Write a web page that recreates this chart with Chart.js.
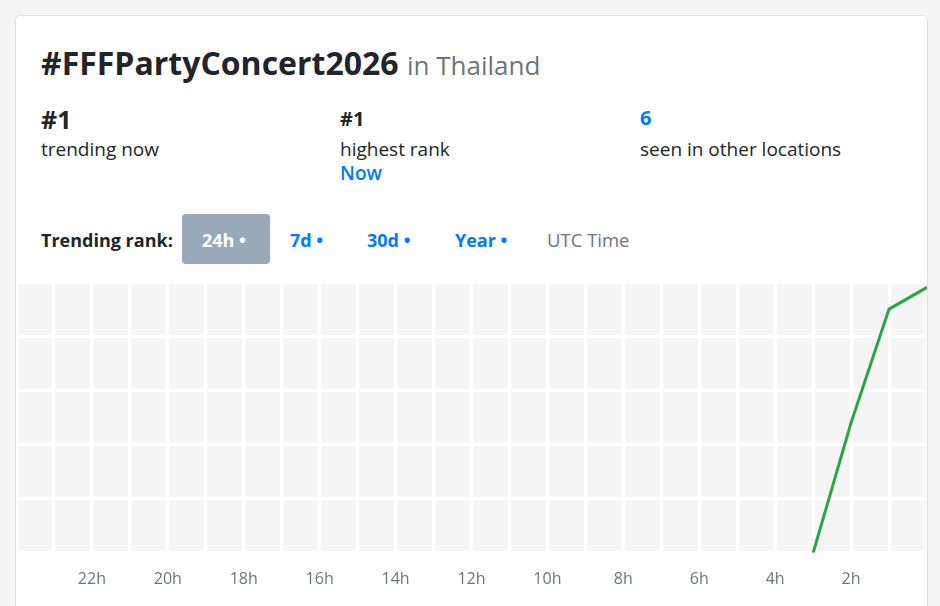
<!DOCTYPE html>
<html>
<head>
<meta charset="utf-8">
<script src="https://cdn.jsdelivr.net/npm/chart.js@4.4.1/dist/chart.umd.min.js"></script>
<style>
  html, body { margin: 0; padding: 0; background: #f5f5f5; width: 940px; height: 606px; overflow: hidden; font-family: "Open Sans", "Noto Sans", sans-serif; color: #212529; }
  .card { position: absolute; left: 15px; top: 15px; width: 911px; height: 640px; background: #fff; border: 1px solid #dfdfdf; border-radius: 5px; }
  .t { position: absolute; white-space: nowrap; line-height: 1; }
  .title { left: 25px; top: 31px; font-size: 32px; font-weight: 700; letter-spacing: 0; }
  .title span { font-weight: 400; color: #6c757d; font-size: 26px; }
  .big { font-size: 25px; font-weight: 700; }
  .mid { font-size: 20px; font-weight: 700; }
  .lbl { font-size: 19px; }
  .blue { color: #007bff; }
  .tab { position: absolute; white-space: nowrap; line-height: 1; font-size: 18px; font-weight: 700; color: #007bff; }
  .btn { position: absolute; left: 166px; top: 198px; width: 88px; height: 50px; background: #9aa9b8; border-radius: 4px; }
  #wrap { position: absolute; left: 0; top: 264px; width: 911px; height: 326px; }
</style>
</head>
<body>
<div class="card">
  <div class="t title">#FFFPartyConcert2026 <span>in Thailand</span></div>

  <div class="t big" style="left:25px; top:91px;">#1</div>
  <div class="t lbl" style="left:25px; top:124px;">trending now</div>

  <div class="t mid" style="left:324px; top:93px;">#1</div>
  <div class="t lbl" style="left:324px; top:124px;">highest rank</div>
  <div class="t lbl blue" style="left:324px; top:148px; font-weight:600;">Now</div>

  <div class="t mid blue" style="left:624px; top:92px;">6</div>
  <div class="t lbl" style="left:624px; top:124px;">seen in other locations</div>

  <div class="t" style="left:25px; top:215px; font-size:18px; font-weight:700;">Trending rank:</div>
  <div class="btn"></div>
  <div class="tab" style="left:186px; top:215px; color:#fff;">24h &#8226;</div>
  <div class="tab" style="left:274px; top:215px;">7d &#8226;</div>
  <div class="tab" style="left:351px; top:215px;">30d &#8226;</div>
  <div class="tab" style="left:439px; top:215px;">Year &#8226;</div>
  <div class="tab" style="left:531px; top:215px; color:#6c757d; font-weight:400; font-size:18.5px;">UTC Time</div>

  <div id="wrap"><canvas id="c"></canvas></div>
</div>
<script>
// Data: hours ago (0 = now) and trending rank (1 = top)
const hoursAgo = [3, 2, 1, 0];
const ranks = [50, 26, 5, 1];
// X-axis tick labels (hours ago)
const tickHours = [22, 20, 18, 16, 14, 12, 10, 8, 6, 4, 2];
const tickLabels = ['22h', '20h', '18h', '16h', '14h', '12h', '10h', '8h', '6h', '4h', '2h'];

const areaBg = {
  id: 'areaBg',
  beforeDraw(chart) {
    const { ctx, chartArea: a } = chart;
    ctx.save();
    ctx.fillStyle = '#f5f5f5';
    ctx.fillRect(a.left, a.top, a.right - a.left, a.bottom - a.top);
    ctx.restore();
  }
};

new Chart(document.getElementById('c'), {
  type: 'line',
  data: {
    datasets: [{
      label: 'Trending rank',
      data: hoursAgo.map((h, i) => ({ x: h, y: ranks[i] })),
      borderColor: '#28a745',
      borderWidth: 3,
      pointRadius: 0,
      tension: 0,
      fill: false
    }]
  },
  options: {
    responsive: true,
    maintainAspectRatio: false,
    animation: false,
    layout: { padding: { left: 0, right: 0, top: 2, bottom: 17 } },
    plugins: { legend: { display: false }, tooltip: { enabled: false } },
    scales: {
      x: {
        type: 'linear',
        min: 0, max: 24, reverse: true,
        border: { display: false },
        grid: { color: '#ffffff', lineWidth: 3, drawTicks: true, tickLength: 17, tickColor: 'rgba(0,0,0,0)' },
        ticks: {
          stepSize: 1, autoSkip: false, maxRotation: 0, padding: 0,
          color: '#6c757d', font: { family: '"Open Sans", sans-serif', size: 16 },
          callback: (v) => { const i = tickHours.indexOf(v); return i >= 0 ? tickLabels[i] : ''; }
        }
      },
      y: {
        min: 0, max: 50, reverse: true,
        border: { display: false },
        grid: { color: '#ffffff', lineWidth: 3, drawTicks: false },
        ticks: { display: false, stepSize: 10, padding: 0 }
      }
    }
  },
  plugins: [areaBg]
});
</script>
</body>
</html>
